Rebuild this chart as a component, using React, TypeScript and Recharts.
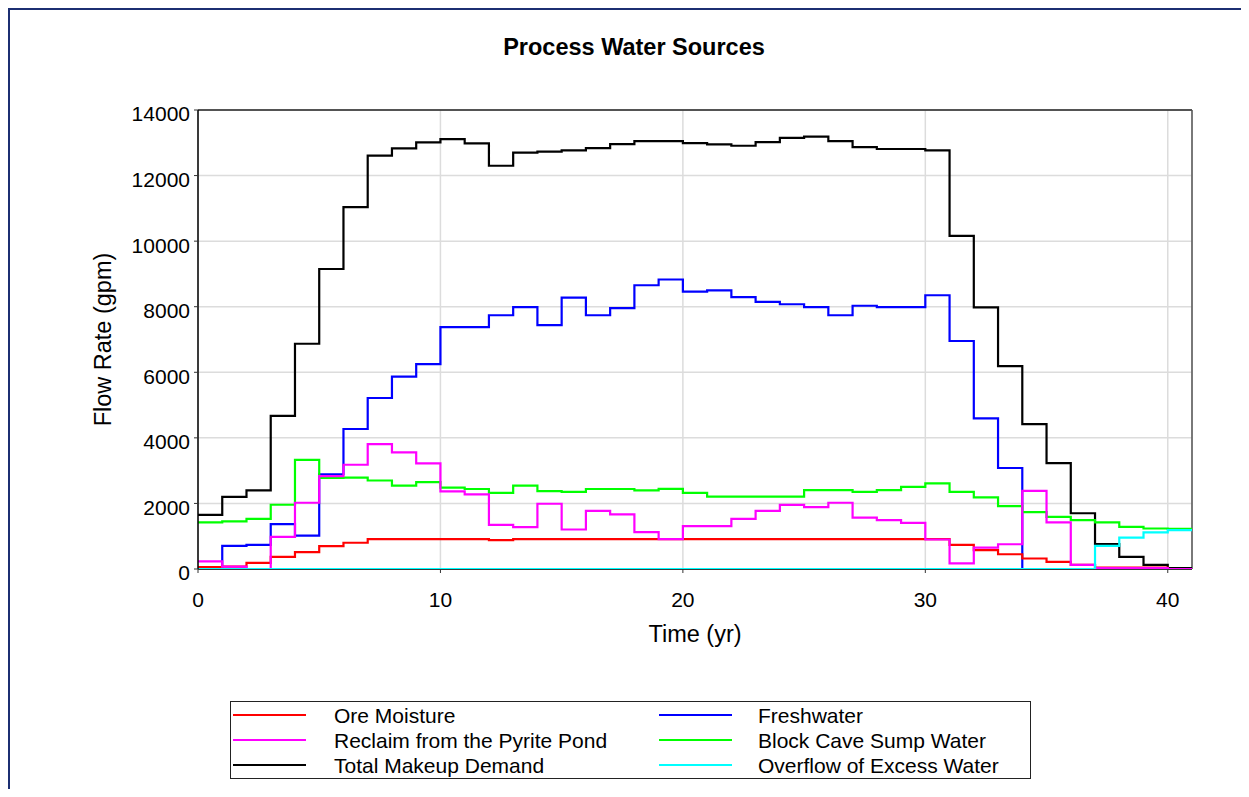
import React from 'react';
import { LineChart, Line, XAxis, YAxis, CartesianGrid, ReferenceLine } from 'recharts';

// Start year of each one-year step (0..40); the last step ends at year 41
const yearStarts = [0, 1, 2, 3, 4, 5, 6, 7, 8, 9, 10, 11, 12, 13, 14, 15, 16, 17, 18, 19, 20, 21, 22, 23, 24, 25, 26, 27, 28, 29, 30, 31, 32, 33, 34, 35, 36, 37, 38, 39, 40];
const lastYear = 41;

const oreMoisture = [60, 75, 185, 370, 515, 695, 800, 910, 910, 910, 910, 910, 880, 910, 910, 910, 910, 910, 910, 910, 910, 910, 910, 910, 910, 910, 910, 910, 910, 910, 910, 735, 575, 450, 320, 215, 125, 40, 40, 40, 0];
const freshwater = [0, 705, 736, 1370, 1020, 2890, 4270, 5215, 5865, 6250, 7380, 7380, 7740, 7990, 7440, 8280, 7740, 7960, 8655, 8830, 8460, 8500, 8290, 8145, 8075, 7990, 7740, 8030, 7990, 7990, 8350, 6955, 4595, 3080, 0, 0, 0, 0, 0, 0, 0];
const reclaimPyrite = [230, 70, 0, 980, 2020, 2830, 3180, 3810, 3560, 3220, 2370, 2275, 1345, 1275, 1990, 1205, 1775, 1665, 1125, 910, 1305, 1305, 1530, 1775, 1955, 1885, 2020, 1570, 1490, 1405, 900, 170, 655, 755, 2385, 1420, 125, 30, 30, 30, 0];
const blockCave = [1420, 1450, 1530, 1960, 3330, 2780, 2790, 2700, 2540, 2650, 2480, 2440, 2320, 2540, 2375, 2355, 2440, 2440, 2400, 2445, 2320, 2210, 2210, 2210, 2210, 2405, 2405, 2355, 2405, 2505, 2610, 2355, 2185, 1915, 1735, 1590, 1490, 1420, 1285, 1235, 1225];
const totalMakeup = [1650, 2200, 2400, 4670, 6870, 9150, 11040, 12610, 12830, 13010, 13110, 12980, 12300, 12700, 12730, 12770, 12840, 12960, 13050, 13050, 12990, 12950, 12910, 13020, 13150, 13190, 13050, 12870, 12810, 12810, 12770, 10160, 7980, 6190, 4420, 3230, 1700, 760, 370, 125, 25];
const overflow = [0, 0, 0, 0, 0, 0, 0, 0, 0, 0, 0, 0, 0, 0, 0, 0, 0, 0, 0, 0, 0, 0, 0, 0, 0, 0, 0, 0, 0, 0, 0, 0, 0, 0, 0, 0, 0, 705, 960, 1120, 1185];

const yMajorTicks = [0, 2000, 4000, 6000, 8000, 10000, 12000, 14000];
const yMinorTicks = [1000, 3000, 5000, 7000, 9000, 11000, 13000];
const xMajorTicks = [0, 10, 20, 30, 40];
const xMinorTicks = [5, 15, 25, 35];

const series = [
  { key: 'total', name: 'Total Makeup Demand', color: '#000000', values: totalMakeup },
  { key: 'fresh', name: 'Freshwater', color: '#0000ff', values: freshwater },
  { key: 'block', name: 'Block Cave Sump Water', color: '#00ff00', values: blockCave },
  { key: 'ore', name: 'Ore Moisture', color: '#ff0000', values: oreMoisture },
  { key: 'reclaim', name: 'Reclaim from the Pyrite Pond', color: '#ff00ff', values: reclaimPyrite },
  { key: 'overflow', name: 'Overflow of Excess Water', color: '#00ffff', values: overflow },
];

const legendOrder = [
  ['ore', 'fresh'],
  ['reclaim', 'block'],
  ['total', 'overflow'],
];

const data = [
  ...yearStarts.map((t, i) => {
    const row: Record<string, number> = { t };
    series.forEach((s) => (row[s.key] = s.values[i]));
    return row;
  }),
  (() => {
    const row: Record<string, number> = { t: lastYear };
    series.forEach((s) => (row[s.key] = s.values[s.values.length - 1]));
    return row;
  })(),
];

const FONT = '"Liberation Sans", Arial, sans-serif';

export default function App() {
  const byKey: Record<string, (typeof series)[number]> = {};
  series.forEach((s) => (byKey[s.key] = s));
  return (
    <div style={{ position: 'relative', width: 1233, height: 781, fontFamily: FONT }}>
      <style>{'html,body{overflow:hidden;}'}</style>
      <div
        style={{
          position: 'absolute', left: 0, top: 0, width: 1241, height: 789,
          borderLeft: '2px solid #1c2f72', borderTop: '2px solid #1c2f72', boxSizing: 'border-box',
        }}
      />
      <div
        style={{
          position: 'absolute', left: 326, width: 600, top: 28, textAlign: 'center',
          fontSize: 23.5, fontWeight: 'bold', lineHeight: 1, color: '#000',
        }}
      >
        Process Water Sources
      </div>
      <div style={{ position: 'absolute', left: 0, top: 0 }}>
        <LineChart
          width={1241}
          height={781}
          data={data}
          margin={{ top: 102, right: 57, left: 90, bottom: 140 }}
        >
          <CartesianGrid stroke="#dcdcdc" strokeWidth={1.5} xAxisId="main" yAxisId="main" />
          <XAxis
            xAxisId="main"
            dataKey="t"
            type="number"
            domain={[0, lastYear]}
            ticks={xMajorTicks}
            allowDataOverflow
            height={80}
            tickSize={4}
            tickMargin={19}
            axisLine={false}
            tickLine={{ stroke: '#333' }}
            tick={{ fill: '#000', fontSize: 21, fontFamily: FONT }}
            label={{ value: 'Time (yr)', position: 'insideTop', offset: 56, fill: '#000', fontSize: 23.5, fontFamily: FONT }}
          />
          <XAxis
            xAxisId="minor"
            dataKey="t"
            type="number"
            domain={[0, lastYear]}
            ticks={xMinorTicks}
            mirror
            height={0}
            tickSize={4}
            axisLine={false}
            tickLine={{ stroke: '#333' }}
            tickFormatter={() => ''}
          />
          <YAxis
            yAxisId="main"
            type="number"
            domain={[0, 14000]}
            ticks={yMajorTicks}
            allowDataOverflow
            width={100}
            tickSize={4}
            tickMargin={4}
            axisLine={{ stroke: '#000', strokeWidth: 1.5 }}
            tickLine={{ stroke: '#333' }}
            tick={{ fill: '#000', fontSize: 21, fontFamily: FONT, dy: 4 }}
            label={{ value: 'Flow Rate (gpm)', angle: -90, position: 'insideLeft', offset: 5, fill: '#000', fontSize: 23.5, fontFamily: FONT, style: { textAnchor: 'middle' } }}
          />
          <YAxis
            yAxisId="minor"
            type="number"
            domain={[0, 14000]}
            ticks={yMinorTicks}
            mirror
            width={0}
            tickSize={4}
            axisLine={false}
            tickLine={{ stroke: '#333' }}
            tickFormatter={() => ''}
          />
          <ReferenceLine xAxisId="main" yAxisId="main" y={14000} stroke="#222" strokeWidth={1.5} />
          <ReferenceLine xAxisId="main" yAxisId="main" x={lastYear} stroke="#555" strokeWidth={1.5} />
          <ReferenceLine xAxisId="main" yAxisId="main" y={0} stroke="#000" strokeWidth={1.5} />
          {series.map((s) => (
            <Line
              key={s.key}
              xAxisId="main"
              yAxisId="main"
              dataKey={s.key}
              name={s.name}
              type="stepAfter"
              stroke={s.color}
              strokeWidth={2.2}
              dot={false}
              activeDot={false}
              isAnimationActive={false}
            />
          ))}
        </LineChart>
      </div>
      <div
        style={{
          position: 'absolute', left: 222, top: 693, width: 801, height: 78,
          border: '1.5px solid #222', boxSizing: 'border-box', background: '#fff',
        }}
      >
        {legendOrder.map((pair, r) =>
          pair.map((k, c) => {
            const s = byKey[k];
            const lineLeft = c === 0 ? 2 : 428;
            const textLeft = c === 0 ? 103 : 527;
            const top = 1 + r * 25;
            return (
              <React.Fragment key={k}>
                <div style={{ position: 'absolute', left: lineLeft, top: top + 11, width: 73, height: 2, background: s.color }} />
                <div style={{ position: 'absolute', left: textLeft, top, height: 25, lineHeight: '25px', fontSize: 21, color: '#000', whiteSpace: 'nowrap' }}>
                  {s.name}
                </div>
              </React.Fragment>
            );
          })
        )}
      </div>
    </div>
  );
}
